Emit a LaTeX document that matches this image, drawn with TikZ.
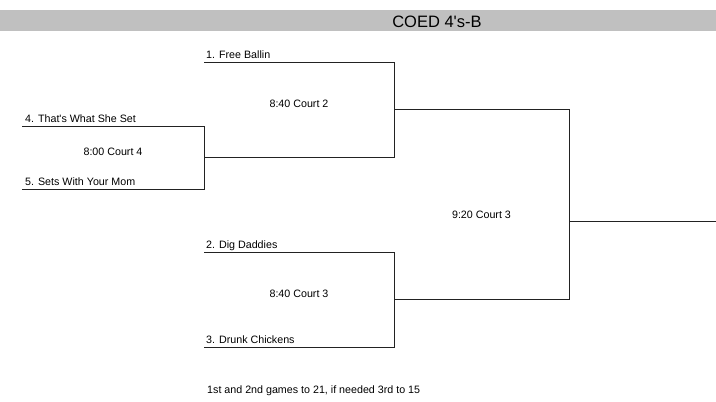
\documentclass[tikz,border=0pt]{standalone}
\usepackage{fontspec}
\setmainfont{Liberation Sans}[Ligatures=TeXOff]
\definecolor{barcol}{HTML}{C0C0C0}
\definecolor{linecol}{HTML}{222222}
\tikzset{
  team/.style={anchor=base west, inner sep=0pt, font=\fontsize{10.7}{12}\selectfont},
  match/.style={anchor=base, inner sep=0pt, font=\fontsize{10.7}{12}\selectfont},
  bline/.style={draw=linecol, line width=0.95pt, line cap=rect}
}
\begin{document}
\begin{tikzpicture}[x=1pt,y=-1pt]
\useasboundingbox (0,0) rectangle (716,402);
% header bar
\fill[barcol] (0,9.5) rectangle (716,30.5);
\node[anchor=base, inner sep=0pt, font=\fontsize{16.5}{18}\selectfont] (title) at (437,27.3) {COED 4's-B};
% coordinates
\coordinate (L4a) at (22,126);
\coordinate (L4b) at (204,126);
\coordinate (L5a) at (22,189);
\coordinate (L5b) at (204,189);
\coordinate (M1) at (204,157);
\coordinate (T1a) at (204,62);
\coordinate (T1b) at (394,62);
\coordinate (B1b) at (394,157);
\coordinate (M2) at (394,109);
\coordinate (F1) at (569,109);
\coordinate (F2) at (569,299);
\coordinate (M3) at (394,299);
\coordinate (D1a) at (204,252);
\coordinate (D1b) at (394,252);
\coordinate (D2a) at (204,347);
\coordinate (D2b) at (394,347);
\coordinate (MF) at (569,221);
\coordinate (END) at (716,221);
% bracket lines
\draw[bline] (L4a) -- (L4b) -- (L5b) -- (L5a);
\draw[bline] (T1a) -- (T1b) -- (B1b) -- (M1);
\draw[bline] (M2) -- (F1) -- (F2) -- (M3);
\draw[bline] (D1a) -- (D1b) -- (D2b) -- (D2a);
\draw[bline] (MF) -- (END);
% team labels
\node[team] (t4) at (25,122.3) {4. That's What She Set};
\node[team] (t5) at (25,185.2) {5. Sets With Your Mom};
\node[team] (t1) at (206,58.5) {1. Free Ballin};
\node[team] (t2) at (206,248.5) {2. Dig Daddies};
\node[team] (t3) at (206,343.5) {3. Drunk Chickens};
% match labels
\node[match] (m1) at (113,155) {8:00 Court 4};
\node[match] (m2) at (299,107.7) {8:40 Court 2};
\node[match] (m3) at (481.5,218.7) {9:20 Court 3};
\node[match] (m4) at (299,297.7) {8:40 Court 3};
% footer
\node[team] (foot) at (207,393) {1st and 2nd games to 21, if needed 3rd to 15};
\end{tikzpicture}
\end{document}
